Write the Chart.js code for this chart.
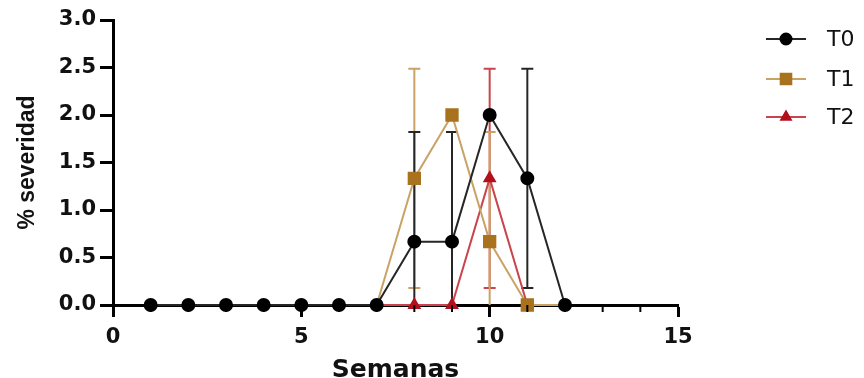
<!DOCTYPE html>
<html>
<head>
<meta charset="utf-8">
<script src="https://cdn.jsdelivr.net/npm/chart.js@4/dist/chart.umd.min.js"></script>
<style>
  html, body { margin: 0; padding: 0; background: #fff; }
  #wrap { width: 864px; height: 378px; }
</style>
</head>
<body>
<div id="wrap"><canvas id="sev"></canvas></div>
<script>
  // Semanas 1..12, % severidad (media) y desviación estándar por tratamiento
  const WEEKS = [1, 2, 3, 4, 5, 6, 7, 8, 9, 10, 11, 12];
  const T0_MEAN = [0, 0, 0, 0, 0, 0, 0, 0.667, 0.667, 2.0, 1.333, 0];
  const T0_SD   = [0, 0, 0, 0, 0, 0, 0, 1.155, 1.155, 0, 1.155, 0];
  const T1_MEAN = [0, 0, 0, 0, 0, 0, 0, 1.333, 2.0, 0.667, 0, 0];
  const T1_SD   = [0, 0, 0, 0, 0, 0, 0, 1.155, 0, 1.155, 0, 0];
  const T2_MEAN = [0, 0, 0, 0, 0, 0, 0, 0, 0, 1.333, 0, 0];
  const T2_SD   = [0, 0, 0, 0, 0, 0, 0, 0, 0, 1.155, 0, 0];
  const X_TICKS = [0, 5, 10, 15];
  const Y_TICKS = [0, 0.5, 1.0, 1.5, 2.0, 2.5, 3.0];

  const COLORS = {
    T0: { line: '#262626', point: '#000000' },
    T1: { line: '#c9a366', point: '#a8721f' },
    T2: { line: '#c9444c', point: '#b3101d' }
  };

  function pts(mean) {
    return WEEKS.map(function (w, i) { return { x: w, y: mean[i] }; });
  }

  const SERIES = [
    { label: 'T0', mean: T0_MEAN, sd: T0_SD, style: 'circle',   c: COLORS.T0, r: 6 },
    { label: 'T1', mean: T1_MEAN, sd: T1_SD, style: 'rect',     c: COLORS.T1, r: 8 },
    { label: 'T2', mean: T2_MEAN, sd: T2_SD, style: 'triangle', c: COLORS.T2, r: 6 }
  ];

  /* Un marcador queda oculto si una serie dibujada encima tiene el mismo valor */
  function covered(d, i) {
    for (let k = 0; k < d; k++) {
      if (SERIES[k].mean[i] === SERIES[d].mean[i]) return true;
    }
    return false;
  }

  /* Barras de error (media ± DE), recortadas en el eje X */
  const errorBars = {
    id: 'errorBars',
    beforeDatasetsDraw: function (chart) {
      const ctx = chart.ctx, xs = chart.scales.x, ys = chart.scales.y;
      ctx.save();
      ctx.lineWidth = 2;
      for (let d = SERIES.length - 1; d >= 0; d--) {
        const s = SERIES[d];
        ctx.strokeStyle = s.c.line;
        s.sd.forEach(function (sd, i) {
          if (!sd) return;
          const x = xs.getPixelForValue(WEEKS[i]);
          const top = ys.getPixelForValue(s.mean[i] + sd);
          const lo = s.mean[i] - sd;
          const bot = ys.getPixelForValue(Math.max(lo, 0));
          ctx.beginPath();
          ctx.moveTo(x, top); ctx.lineTo(x, bot);
          ctx.moveTo(x - 6, top); ctx.lineTo(x + 6, top);
          if (lo > 0) { ctx.moveTo(x - 6, bot); ctx.lineTo(x + 6, bot); }
          ctx.stroke();
        });
      }
      ctx.restore();
    }
  };

  /* Marcas menores del eje X (cada semana), más cortas que las mayores */
  const minorTicks = {
    id: 'minorTicks',
    afterDraw: function (chart) {
      const ctx = chart.ctx, xs = chart.scales.x, y0 = chart.chartArea.bottom;
      ctx.save();
      ctx.strokeStyle = '#000';
      ctx.lineWidth = 2;
      for (let v = 1; v < 15; v++) {
        if (X_TICKS.indexOf(v) >= 0) continue;
        const x = xs.getPixelForValue(v);
        ctx.beginPath(); ctx.moveTo(x, y0); ctx.lineTo(x, y0 + 7); ctx.stroke();
      }
      ctx.restore();
    }
  };

  /* Leyenda a la derecha: línea con marcador y etiqueta */
  const sideLegend = {
    id: 'sideLegend',
    afterDraw: function (chart) {
      const ctx = chart.ctx;
      const ys = [39, 79, 117];
      ctx.save();
      SERIES.forEach(function (s, i) {
        const y = ys[i];
        ctx.strokeStyle = s.c.line;
        ctx.lineWidth = 2;
        ctx.beginPath(); ctx.moveTo(766, y); ctx.lineTo(806, y); ctx.stroke();
        ctx.fillStyle = s.c.point;
        ctx.strokeStyle = s.c.point;
        Chart.helpers.drawPoint(ctx, {
          pointStyle: s.style, radius: s.r - 0.5, borderWidth: 1
        }, 786, y);
        ctx.fillStyle = '#111';
        ctx.font = '22px "DejaVu Sans", sans-serif';
        ctx.textBaseline = 'middle';
        ctx.fillText(s.label, 827, y + 1);
      });
      ctx.restore();
    }
  };

  const datasets = SERIES.map(function (s, d) {
    return {
      label: s.label,
      data: pts(s.mean),
      borderColor: s.c.line,
      backgroundColor: s.c.point,
      borderWidth: 2,
      pointStyle: s.style,
      pointRadius: function (ctx) { return covered(d, ctx.dataIndex) ? 0 : s.r; },
      pointBackgroundColor: s.c.point,
      pointBorderColor: s.c.point,
      tension: 0,
      clip: false
    };
  });

  const tickFont = { family: '"DejaVu Sans", sans-serif', size: 21, weight: 'bold' };

  new Chart(document.getElementById('sev'), {
    type: 'line',
    data: { datasets: datasets },
    plugins: [errorBars, minorTicks, sideLegend],
    options: {
      responsive: true,
      maintainAspectRatio: false,
      animation: false,
      layout: { padding: { top: 20, right: 186, left: 0, bottom: 0 } },
      plugins: { legend: { display: false }, tooltip: { enabled: false } },
      scales: {
        x: {
          type: 'linear',
          min: 0, max: 15,
          afterBuildTicks: function (axis) {
            axis.ticks = X_TICKS.map(function (v) { return { value: v }; });
          },
          afterFit: function (axis) { axis.height = 73; },
          grid: { drawOnChartArea: false, tickLength: 12, tickColor: '#000', tickWidth: 3 },
          border: { color: '#000', width: 3 },
          ticks: {
            color: '#111', font: tickFont, maxRotation: 0, autoSkip: false, padding: 8
          },
          title: {
            display: true, text: 'Semanas', color: '#111',
            font: { family: '"DejaVu Sans", sans-serif', size: 25, weight: 'bold', lineHeight: 1 },
            padding: { top: 0, bottom: -5 }
          }
        },
        y: {
          min: 0, max: 3,
          afterBuildTicks: function (axis) {
            axis.ticks = Y_TICKS.map(function (v) { return { value: v }; });
          },
          afterFit: function (axis) { axis.width = 113; },
          grid: { drawOnChartArea: false, tickLength: 13, tickColor: '#000', tickWidth: 3 },
          border: { color: '#000', width: 3 },
          ticks: {
            color: '#111', font: tickFont, padding: 4,
            callback: function (v) { return v.toFixed(1); }
          },
          title: {
            display: true, text: '% severidad', color: '#111',
            font: { family: '"Liberation Sans", Arial, sans-serif', size: 23, weight: 'bold', lineHeight: 1 },
            padding: { top: 16, bottom: 0 }
          }
        }
      }
    }
  });
</script>
</body>
</html>
